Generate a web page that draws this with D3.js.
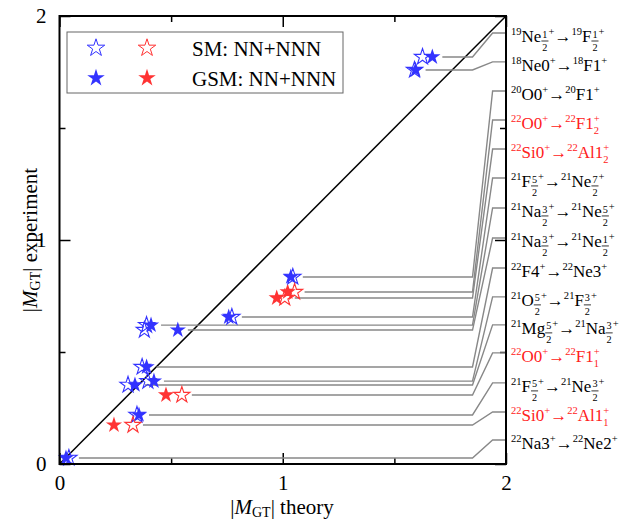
<!DOCTYPE html>
<html>
<head>
<meta charset="utf-8">
<script src="https://cdn.jsdelivr.net/npm/d3@7"></script>
<style>
  body { margin: 0; background: #fff; }
  svg, svg text { font-family: "Liberation Serif", "Times New Roman", "DejaVu Serif", serif !important; }
</style>
</head>
<body>
<div id="chart"></div>
<script>
// |M_GT| values, one entry per transition (top label to bottom label)
const expt = [1.817, 1.759, 0.835, 0.768, 0.741, 0.656, 0.62, 0.598, 0.433, 0.37, 0.353, 0.308, 0.219, 0.174, 0.027];
const sm   = [1.626, 1.59, 1.045, 1.053, 1.009, 0.772, 0.39, 0.38, 0.37, 0.396, 0.307, 0.548, 0.347, 0.329, 0.042];
const gsm  = [1.67, 1.595, 1.036, 1.022, 0.973, 0.758, 0.41, 0.53, 0.39, 0.423, 0.338, 0.477, 0.356, 0.244, 0.029];
const kind = ["b", "b", "b", "r", "r", "b", "b", "b", "b", "b", "b", "r", "b", "r", "b"];
// where each leader line meets the right frame
const labelY = [1.924, 1.795, 1.665, 1.536, 1.406, 1.277, 1.143, 1.009, 0.875, 0.746, 0.621, 0.496, 0.362, 0.232, 0.107];
const labels = [
  "^{19}Ne[1/2]^{+}→^{19}F[1/2]^{+}",
  "^{18}Ne0^{+}→^{18}F1^{+}",
  "^{20}O0^{+}→^{20}F1^{+}",
  "^{22}O0^{+}→^{22}F1^{+}_{2}",
  "^{22}Si0^{+}→^{22}Al1^{+}_{2}",
  "^{21}F[5/2]^{+}→^{21}Ne[7/2]^{+}",
  "^{21}Na[3/2]^{+}→^{21}Ne[5/2]^{+}",
  "^{21}Na[3/2]^{+}→^{21}Ne[1/2]^{+}",
  "^{22}F4^{+}→^{22}Ne3^{+}",
  "^{21}O[5/2]^{+}→^{21}F[3/2]^{+}",
  "^{21}Mg[5/2]^{+}→^{21}Na[3/2]^{+}",
  "^{22}O0^{+}→^{22}F1^{+}_{1}",
  "^{21}F[5/2]^{+}→^{21}Ne[3/2]^{+}",
  "^{22}Si0^{+}→^{22}Al1^{+}_{1}",
  "^{22}Na3^{+}→^{22}Ne2^{+}"
];
const majorTicks = [0, 1, 2];
const minorTicks = [0.5, 1.5];
const legendItems = ["SM: NN+NNN", "GSM: NN+NNN"];

const width = 630, height = 521;
const serif = "Liberation Serif, Times New Roman, serif";
const col = { b: "#3333ff", r: "#ff3333" };
const textCol = { b: "#000", r: "#ff2020" };

const svg = d3.select("#chart").append("svg")
    .attr("width", width)
    .attr("height", height)
    .attr("font-family", serif);

const x = d3.scaleLinear().domain([0, 2]).range([59.5, 506]);
const y = d3.scaleLinear().domain([0, 2]).range([464, 16]);

const star = d3.symbol().type(d3.symbolStar).size(82);

// ticks, pointing inward on all four sides
function ticks(axis, t, size, labelled) {
  return axis.tickValues(t).tickSize(-size).tickFormat(labelled ? d3.format("d") : "");
}
[[d3.axisBottom, `translate(0,${y(0)})`], [d3.axisTop, `translate(0,${y(2)})`]].forEach(function (a, i) {
  svg.append("g").attr("class", "ax").attr("transform", a[1])
      .call(ticks(a[0](x), majorTicks, 11, i === 0).tickPadding(11.5));
  svg.append("g").attr("class", "ax").attr("transform", a[1])
      .call(ticks(a[0](x), minorTicks, 6, false));
});
[[d3.axisLeft, `translate(${x(0)},0)`], [d3.axisRight, `translate(${x(2)},0)`]].forEach(function (a, i) {
  svg.append("g").attr("class", "ax").attr("transform", a[1])
      .call(ticks(a[0](y), majorTicks, 11, i === 0).tickPadding(13));
  svg.append("g").attr("class", "ax").attr("transform", a[1])
      .call(ticks(a[0](y), minorTicks, 6, false));
});
svg.selectAll(".ax").attr("font-family", serif);
svg.selectAll(".ax .domain").remove();
svg.selectAll(".ax line").attr("stroke", "#000").attr("stroke-width", 1.5);
svg.selectAll(".ax text").attr("font-size", 21).attr("fill", "#000");

// diagonal
svg.append("line")
    .attr("x1", x(0)).attr("y1", y(0))
    .attr("x2", x(2)).attr("y2", y(2))
    .attr("stroke", "#000").attr("stroke-width", 1.5);

// leader lines from points to labels
svg.append("g").selectAll("path")
    .data(expt)
    .enter().append("path")
    .attr("fill", "none")
    .attr("stroke", "#888")
    .attr("stroke-width", 1.4)
    .attr("d", function (d, i) {
      const x0 = x(Math.max(sm[i], gsm[i])) + 10;
      return "M" + x0 + "," + y(d) + "H" + x(1.85) + "L" + x(1.94) + "," + y(labelY[i]) + "H" + x(2);
    });

// stars: GSM filled, SM open
svg.append("g").selectAll("path")
    .data(expt)
    .enter().append("path")
    .attr("transform", function (d, i) { return "translate(" + x(gsm[i]) + "," + y(d) + ")"; })
    .attr("d", star)
    .attr("fill", function (d, i) { return col[kind[i]]; });
svg.append("g").selectAll("path")
    .data(expt)
    .enter().append("path")
    .attr("transform", function (d, i) { return "translate(" + x(sm[i]) + "," + y(d) + ")"; })
    .attr("d", star)
    .attr("fill", "none")
    .attr("stroke", function (d, i) { return col[kind[i]]; })
    .attr("stroke-width", 1.1);

// frame
svg.append("rect")
    .attr("x", x(0)).attr("y", y(2))
    .attr("width", x(2) - x(0)).attr("height", y(0) - y(2))
    .attr("fill", "none").attr("stroke", "#000").attr("stroke-width", 2);

// small markup: ^{sup} _{sub} [n/d]
function rich(g, src, x0, base, fs, color) {
  const re = /\^\{([^}]*)\}|_\{([^}]*)\}|\[(\w+)\/(\w+)\]|([^\^_\[]+)/g;
  let cx = x0, lastSup = null, m;
  function put(s, px, py, size, anchor) {
    const t = g.append("text").attr("x", px).attr("y", py)
        .attr("font-size", size).attr("fill", color).text(s);
    if (anchor) t.attr("text-anchor", anchor);
    return t.node().getComputedTextLength();
  }
  while ((m = re.exec(src))) {
    if (m[1] !== undefined) {
      const w = put(m[1], cx, base - 0.4 * fs, 0.62 * fs);
      lastSup = { x: cx, w: w };
      cx += w;
    } else if (m[2] !== undefined) {
      const sx = lastSup ? lastSup.x : cx;
      const w = put(m[2], sx, base + 0.28 * fs, 0.62 * fs);
      cx = Math.max(cx, sx + w);
      lastSup = null;
    } else if (m[3] !== undefined) {
      lastSup = null;
      const s2 = 0.6 * fs;
      const probe = g.append("text").attr("font-size", s2);
      const wn = probe.text(m[3]).node().getComputedTextLength();
      const wd = probe.text(m[4]).node().getComputedTextLength();
      probe.remove();
      const fw = Math.max(wn, wd) + 2;
      put(m[3], cx + fw / 2, base - 0.26 * fs, s2, "middle");
      put(m[4], cx + fw / 2, base + 0.53 * fs, s2, "middle");
      g.append("line").attr("x1", cx).attr("x2", cx + fw)
          .attr("y1", base - 0.06 * fs).attr("y2", base - 0.06 * fs)
          .attr("stroke", color).attr("stroke-width", 0.8);
      cx += fw;
    } else {
      lastSup = null;
      cx += put(m[5], cx, base, fs);
    }
  }
}

const lab = svg.append("g");
labels.forEach(function (s, i) {
  rich(lab, s, 511, y(labelY[i]) + 9, 17, textCol[kind[i]]);
});

// axis titles
function title(g, rest) {
  const t = g.append("text").attr("font-size", 21).attr("fill", "#000").attr("text-anchor", "middle");
  t.append("tspan").text("|");
  t.append("tspan").attr("font-style", "italic").text("M");
  t.append("tspan").attr("font-size", 14).attr("dy", 3).text("GT");
  t.append("tspan").attr("dy", -3).text("| " + rest);
  return t;
}
title(svg.append("g").attr("transform", "translate(282,514)"), "theory");
title(svg.append("g").attr("transform", "translate(37,240) rotate(-90)"), "experiment");

// legend
const leg = svg.append("g");
leg.append("rect")
    .attr("x", 67).attr("y", 32).attr("width", 276).attr("height", 61)
    .attr("fill", "#fff").attr("stroke", "#666").attr("stroke-width", 1);
legendItems.forEach(function (s, i) {
  const ly = 48 + i * 30;
  ["b", "r"].forEach(function (k, j) {
    leg.append("path")
        .attr("transform", "translate(" + (96 + j * 51) + "," + ly + ")")
        .attr("d", d3.symbol().type(d3.symbolStar).size(95))
        .attr("fill", i === 0 ? "none" : col[k])
        .attr("stroke", i === 0 ? col[k] : "none");
  });
  leg.append("text").attr("x", 192).attr("y", ly + 8)
      .attr("font-size", 21).attr("fill", "#000").text(s);
});
</script>
</body>
</html>
